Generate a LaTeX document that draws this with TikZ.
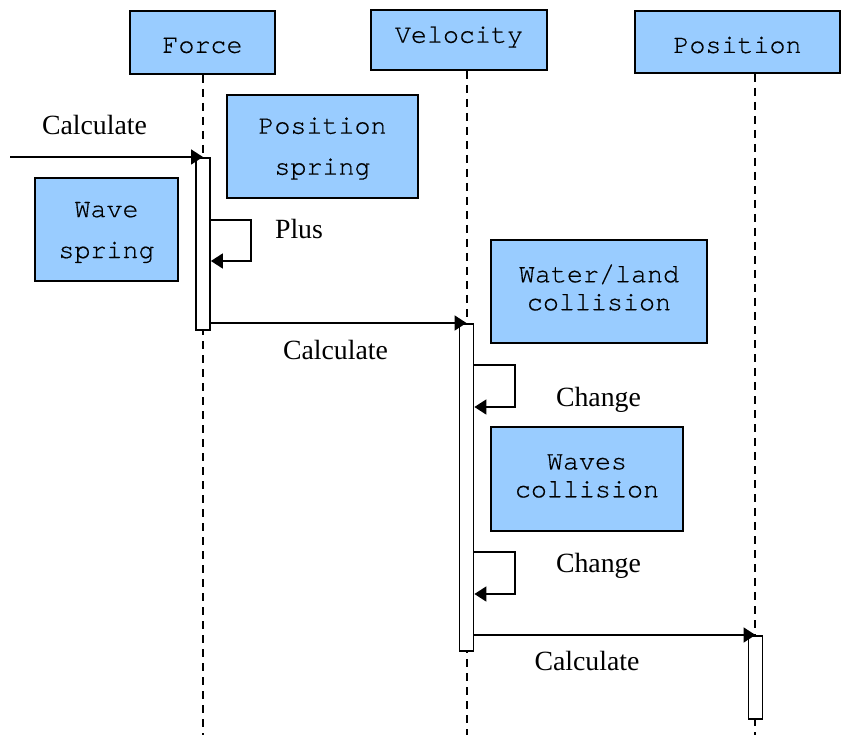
\documentclass[tikz,border=0pt]{standalone}
\usepackage{fontspec}
\setmainfont{Liberation Serif}
\setmonofont{TeX Gyre Cursor}[UprightFeatures={FakeBold=0.5}]
\usetikzlibrary{arrows.meta}
\definecolor{boxblue}{HTML}{99CCFF}
% shift text up or down without changing the size it reports
\newcommand{\liftby}[2]{\raisebox{#1}[\height][\depth]{#2}}

\begin{document}
\begin{tikzpicture}[x=1pt, y=-1pt,
  obj/.style={draw=black, line width=2pt, fill=boxblue, inner sep=0pt,
    align=center, font=\ttfamily\fontsize{26.7}{30}\selectfont},
  wide/.style={font=\ttfamily\fontsize{26.7}{41}\selectfont},
  tight/.style={font=\ttfamily\fontsize{26.7}{28}\selectfont},
  lbl/.style={inner sep=0pt, anchor=base, font=\fontsize{27.8}{30}\selectfont},
  life/.style={line width=1.6pt, dash pattern=on 8pt off 6pt},
  act/.style={draw=black, fill=white, line width=1.8pt, inner sep=0pt, minimum width=14pt},
  msg/.style={line width=1.8pt, -{Triangle[length=12pt,width=15pt]}}]

  % canvas
  \path[fill=white] (0,0) rectangle (843,735);
  \useasboundingbox (0,0) rectangle (843,735);

  % object heads
  \node[obj, minimum width=145pt, minimum height=63pt] (force) at (202.5,42.5) {\liftby{-3pt}{Force}};
  \node[obj, minimum width=176pt, minimum height=60pt] (velocity) at (459,40) {\liftby{3pt}{Velocity}};
  \node[obj, minimum width=205pt, minimum height=62pt] (position) at (737.5,42) {\liftby{-3pt}{Position}};

  % notes
  \node[obj, wide, minimum width=191pt, minimum height=103pt] (posspring) at (322.5,146.5)
    {\liftby{-2pt}{Position}\\\liftby{-2pt}{spring}};
  \node[obj, wide, minimum width=143pt, minimum height=103pt] (wavespring) at (106.5,229.5)
    {\liftby{-3pt}{Wave}\\\liftby{-3pt}{spring}};
  \node[obj, tight, minimum width=216pt, minimum height=103pt] (waterland) at (599,291.5)
    {\liftby{4pt}{Water/land}\\\liftby{4pt}{collision}};
  \node[obj, tight, minimum width=192pt, minimum height=104pt] (wavescoll) at (587,479)
    {\liftby{3pt}{Waves}\\\liftby{3pt}{collision}};

  % lifeline ends
  \coordinate (fend) at (203,735);
  \coordinate (vend) at (467,735);
  \coordinate (pend) at (755,735);

  % lifelines
  \draw[life] (fend |- force.south) -- (fend);
  \draw[life] (vend |- velocity.south) -- (vend);
  \draw[life] (pend |- position.south) -- (pend);

  % activation bars
  \node[act, minimum height=172pt, anchor=north] (fbar) at (203,157) {};
  \node[act, minimum height=327pt, anchor=north] (vbar) at (466.5,323) {};
  \node[act, minimum height=83pt, anchor=north] (pbar) at (755.5,635) {};

  % messages
  \coordinate (start) at (10,157);
  \draw[msg] (start) -- (fbar.north);
  \node[lbl] (calc1) at (94.5,135) {Calculate};

  \draw[msg] (fbar.east |- 0,220) -- (251,220) -- (251,261) -- (fbar.east |- 0,261);
  \node[lbl] (plus) at (299,239) {Plus};

  \draw[msg] (vbar.north -| fbar.east) -- (vbar.north);
  \node[lbl] (calc2) at (335.5,359) {Calculate};

  \draw[msg] (vbar.east |- 0,365) -- (515,365) -- (515,407) -- (vbar.east |- 0,407);
  \node[lbl] (change1) at (598.5,406) {Change};

  \draw[msg] (vbar.east |- 0,552) -- (515,552) -- (515,594) -- (vbar.east |- 0,594);
  \node[lbl] (change2) at (598.5,572) {Change};

  \draw[msg] (pbar.north -| vbar.east) -- (pbar.north);
  \node[lbl] (calc3) at (587,670) {Calculate};
\end{tikzpicture}
\end{document}
